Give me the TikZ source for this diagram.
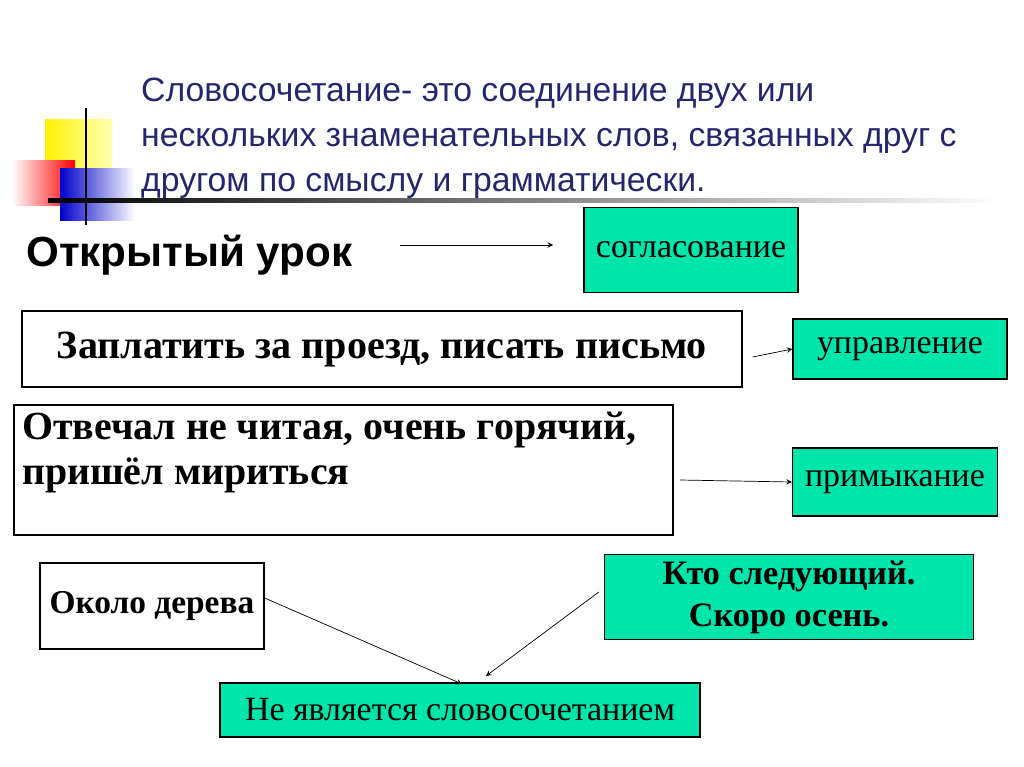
\documentclass[tikz,border=0pt]{standalone}
\usepackage{fontspec}
\setmainfont{Liberation Serif}
\newfontfamily\headfont{Liberation Sans}
\usepackage{tikz}
\usetikzlibrary{arrows}
\definecolor{mint}{RGB}{0,229,170}
\definecolor{titleblue}{RGB}{38,38,110}
\tikzset{
	greenbox/.style = {draw, thick, rectangle, fill=mint, align=center, font=\fontsize{19.3}{24}\selectfont},
	whitebox/.style = {draw, thick, rectangle, fill=white, align=center},
	link/.style     = {->, >=stealth, thin}
}
\begin{document}
\begin{tikzpicture}[x=0.02cm, y=-0.02cm]
\useasboundingbox (0,0) rectangle (1024,767);
% decoration
\shade[left color=yellow!90!orange, right color=yellow!30] (45,120) rectangle (112,182);
\shade[left color=white, right color=red] (12,160) rectangle (75,205);
\shade[left color=blue!80!black, right color=white] (60,168) rectangle (135,220);
\draw[very thick] (86,108) -- (86,225);
\shade[left color=black, right color=white] (48,198) rectangle (1000,202);
% title
\node[anchor=north west, align=left, text=titleblue, font=\headfont\fontsize{19.2}{25.5}\selectfont] (title) at (135,72)
{Словосочетание- это соединение двух или\\нескольких знаменательных слов, связанных друг с\\другом по смыслу и грамматически.};
\node[anchor=west, font=\headfont\bfseries\fontsize{24}{28}\selectfont] (lesson) at (20,255) {Открытый урок};
\coordinate (lessonend) at (400,245);
\node[greenbox, minimum width=4.28cm, minimum height=1.7cm] (agree) at (691,250) {согласование};
\node[greenbox, minimum width=4.28cm, minimum height=1.2cm] (govern) at (900,349) {управление};
\node[greenbox, minimum width=4.1cm, minimum height=1.36cm] (adjoin) at (895,482) {примыкание};
\node[greenbox, minimum width=7.38cm, minimum height=1.7cm, font=\bfseries\fontsize{19.5}{24}\selectfont] (who) at (789,597) {Кто следующий.\\Скоро осень.};
\node[greenbox, minimum width=9.6cm, minimum height=1.08cm] (notphrase) at (460,710) {Не является словосочетанием};
\node[whitebox, minimum width=14.4cm, minimum height=1.52cm, font=\bfseries\fontsize{22.8}{26}\selectfont] (pay) at (382,349) {Заплатить за проезд, писать письмо};
\draw[thick] (14,405) rectangle (673,535);
\node[anchor=north west, align=left, font=\bfseries\fontsize{22.7}{25.5}\selectfont] (answer) at (16,406) {Отвечал не читая, очень горячий,\\пришёл мириться};
\coordinate (answerend) at (680,480);
\node[whitebox, minimum width=4.48cm, minimum height=1.72cm, font=\bfseries\fontsize{19}{24}\selectfont] (tree) at (152,606) {Около дерева};
\coordinate (notA) at (462,684);
\coordinate (notB) at (486,676);
\draw[link] (lessonend) -- (553,245);
\draw[link] (pay.east) ++(10,8) -- (govern.west);
\draw[link] (answerend) -- (adjoin.west);
\draw[link] (tree.east) ++(0,-8) -- (notA);
\draw[link] (who.west) ++(-5,-5) -- (notB);
\end{tikzpicture}
\end{document}
